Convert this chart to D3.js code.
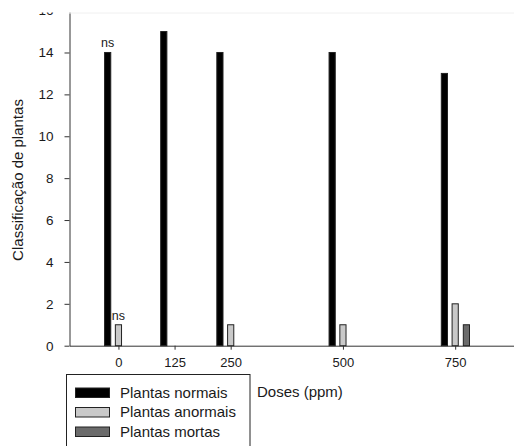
<!DOCTYPE html>
<html><head><meta charset="utf-8">
<script src="https://cdn.jsdelivr.net/npm/d3@7"></script>
<style>html,body{margin:0;padding:0;background:#fff;overflow:hidden}</style>
</head><body>
<svg id="c" width="514" height="446"></svg>
<script>
const doses = [0, 125, 250, 500, 750];
const normais = [14, 15, 14, 14, 13];
const anormais = [1, 0, 1, 1, 2];
const mortas = [0, 0, 0, 0, 1];
const yTicks = [0, 2, 4, 6, 8, 10, 12, 14, 16];
const seriesNames = ["Plantas normais", "Plantas anormais", "Plantas mortas"];
const seriesColors = ["#000000", "#c9c9c9", "#6b6b6b"];
const annotations = [{dose: 0, series: 0, text: "ns"}, {dose: 0, series: 1, text: "ns"}];

const svg = d3.select("#c");
const font = "'Liberation Sans', Arial, sans-serif";
const x = d3.scaleLinear().domain([-109, 881]).range([69.5, 514]);
const y = d3.scaleLinear().domain([0, 16]).range([345.7, 10.6]);
const offsets = [-24, 0, 25];
const barW = 16;

// y axis
const ya = svg.append("g").attr("transform", "translate(69.5,0)")
  .call(d3.axisLeft(y).tickValues(yTicks).tickSize(5).tickSizeOuter(0).tickPadding(11));
ya.select(".domain").attr("stroke", "#333");
ya.selectAll(".tick line").attr("stroke", "#333");
ya.selectAll("text").attr("font-family", font).attr("font-size", 13.5).attr("fill", "#1a1a1a");

// x axis
const xa = svg.append("g").attr("transform", "translate(0,345.7)")
  .call(d3.axisBottom(x).tickValues(doses).tickSize(4).tickSizeOuter(0).tickPadding(8));
xa.select(".domain").attr("stroke", "#333");
xa.selectAll(".tick line").attr("stroke", "#333");
xa.selectAll("text").attr("font-family", font).attr("font-size", 13).attr("fill", "#1a1a1a");

// bars
const allSeries = [normais, anormais, mortas];
allSeries.forEach((vals, si) => {
  svg.append("g").selectAll("rect").data(doses.map((d, i) => ({d, v: vals[i]})).filter(o => o.v > 0))
    .enter().append("rect")
    .attr("x", o => x(o.d + offsets[si] - barW / 2) + 0.5)
    .attr("width", o => x(barW) - x(0) - 1)
    .attr("y", o => y(o.v))
    .attr("height", o => y(0) - y(o.v))
    .attr("fill", seriesColors[si])
    .attr("stroke", "#222").attr("stroke-width", 1);
});

// annotations
annotations.forEach(a => {
  const i = doses.indexOf(a.dose);
  svg.append("text")
    .attr("x", x(a.dose + offsets[a.series]))
    .attr("y", y(allSeries[a.series][i]) - 5)
    .attr("text-anchor", "middle")
    .attr("font-family", font).attr("font-size", 12.5).attr("fill", "#1a1a1a")
    .text(a.text);
});

// cover top (cropped look)
svg.append("rect").attr("x", 0).attr("y", 0).attr("width", 514).attr("height", 12.5).attr("fill", "#fff");
svg.append("line").attr("x1", 69).attr("x2", 514).attr("y1", 13).attr("y2", 13).attr("stroke", "#f0f0f0");

// y title
svg.append("text")
  .attr("transform", "translate(23,180) rotate(-90)")
  .attr("text-anchor", "middle")
  .attr("font-family", font).attr("font-size", 15).attr("fill", "#1a1a1a")
  .text("Classificação de plantas");

// x title
svg.append("text").attr("x", 257).attr("y", 397)
  .attr("font-family", font).attr("font-size", 15).attr("fill", "#1a1a1a")
  .text("Doses (ppm)");

// legend
const lg = svg.append("g");
lg.append("rect").attr("x", 66.5).attr("y", 374.5).attr("width", 183.5).attr("height", 80)
  .attr("fill", "#fff").attr("stroke", "#222");
seriesNames.forEach((n, i) => {
  const yy = 388 + i * 19.5;
  lg.append("rect").attr("x", 75.5).attr("y", yy).attr("width", 34).attr("height", 9.5)
    .attr("fill", seriesColors[i]).attr("stroke", "#222");
  lg.append("text").attr("x", 120).attr("y", yy + 9.5)
    .attr("font-family", font).attr("font-size", 15).attr("fill", "#1a1a1a").text(n);
});
</script>
</body></html>
